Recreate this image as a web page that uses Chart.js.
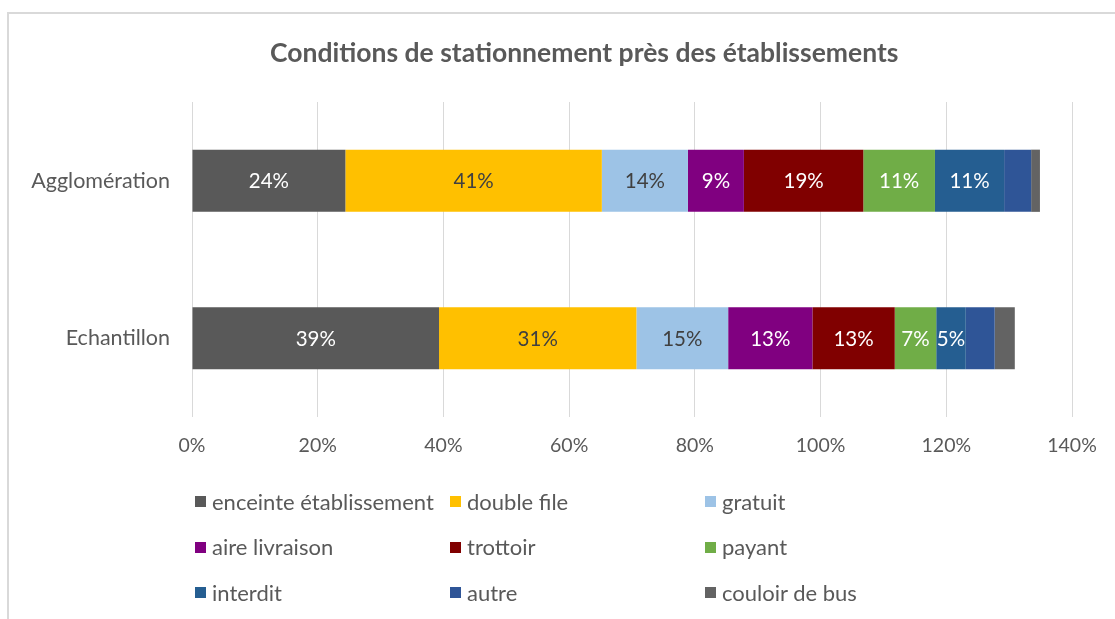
<!DOCTYPE html>
<html>
<head>
<meta charset="utf-8">
<script src="https://cdn.jsdelivr.net/npm/chart.js@4/dist/chart.umd.min.js"></script>
<style>
  html, body { margin: 0; padding: 0; background: #ffffff; overflow: hidden; }
  #wrap { position: relative; width: 1115px; height: 619px; overflow: hidden; }
  #frame { position: absolute; left: 7px; top: 12px; width: 1200px; height: 700px; border: 2px solid #d9d9d9; box-sizing: border-box; }
  #c { position: absolute; left: 0; top: 0; }
  #title { position: absolute; left: 270px; width: 600px; top: 34px; height: 36px; line-height: 36px; text-align: center; white-space: nowrap;
           font-family: Lato, "Open Sans", sans-serif; font-weight: bold; font-size: 26.5px; color: #595959; }
  #legend { position: absolute; left: 195px; top: 489px; display: grid; grid-template-columns: 255px 255px 255px; grid-auto-rows: 45.5px;
            font-family: Lato, "Open Sans", sans-serif; font-size: 22px; color: #595959; }
  #legend div { display: flex; align-items: center; height: 24px; white-space: nowrap; }
  #legend span.box { display: inline-block; flex: 0 0 11px; width: 11px; height: 11px; margin-right: 6px; margin-top: 1px; }
</style>
</head>
<body>
<div id="wrap">
  <div id="frame"></div>
  <canvas id="c" width="1115" height="619"></canvas>
  <div id="title"></div>
  <div id="legend"></div>
</div>
<script>
const titleText = "Conditions de stationnement près des établissements";
const categories = ["Agglomération", "Echantillon"];
const seriesNames = ["enceinte établissement", "double file", "gratuit", "aire livraison", "trottoir", "payant", "interdit", "autre", "couloir de bus"];
const enceinte = [24.4, 39.3];
const doubleFile = [40.8, 31.4];
const gratuit = [13.7, 14.6];
const aireLivraison = [8.9, 13.4];
const trottoir = [19.0, 13.1];
const payant = [11.4, 6.6];
const interdit = [11.0, 4.7];
const autre = [4.3, 4.6];
const couloirBus = [1.4, 3.2];
const seriesColors = ["#595959", "#FFC000", "#9DC3E6", "#800080", "#800000", "#70AD47", "#255E91", "#2F5597", "#636363"];
const labelColors = ["#ffffff", "#404040", "#404040", "#ffffff", "#ffffff", "#ffffff", "#ffffff", null, null];
const tickValues = [0, 20, 40, 60, 80, 100, 120, 140];

const seriesValues = [enceinte, doubleFile, gratuit, aireLivraison, trottoir, payant, interdit, autre, couloirBus];
const FONT = 'Lato, "Open Sans", sans-serif';

const datasets = seriesNames.map((name, i) => ({
  label: name,
  data: seriesValues[i],
  backgroundColor: seriesColors[i],
  borderWidth: 0,
  categoryPercentage: 1.0,
  barPercentage: 0.395
}));

const barLabels = {
  id: 'barLabels',
  afterDatasetsDraw(chart) {
    const ctx = chart.ctx;
    ctx.save();
    ctx.font = '20.5px ' + FONT;
    ctx.textAlign = 'center';
    ctx.textBaseline = 'middle';
    chart.data.datasets.forEach((ds, i) => {
      if (!labelColors[i]) return;
      const meta = chart.getDatasetMeta(i);
      meta.data.forEach((el, j) => {
        const v = ds.data[j];
        const cx = (el.x + el.base) / 2;
        ctx.fillStyle = labelColors[i];
        ctx.fillText(Math.round(v) + '%', cx, el.y + 1);
      });
    });
    ctx.restore();
  }
};

new Chart(document.getElementById('c'), {
  type: 'bar',
  data: { labels: categories, datasets },
  options: {
    indexAxis: 'y',
    responsive: false,
    animation: false,
    layout: { padding: { left: 0, right: 43, top: 102, bottom: 0 } },
    plugins: {
      legend: { display: false },
      tooltip: { enabled: false },
      title: { display: false }
    },
    scales: {
      x: {
        stacked: true,
        min: 0,
        max: 140,
        afterBuildTicks(axis) { axis.ticks = tickValues.map(v => ({ value: v })); },
        afterFit(axis) { axis.height = 202; },
        ticks: {
          color: '#595959',
          font: { family: FONT, size: 19.5 },
          padding: 17,
          callback: v => v + '%'
        },
        grid: { color: '#d9d9d9', lineWidth: 1, drawTicks: false },
        border: { display: false }
      },
      y: {
        stacked: true,
        afterFit(axis) { axis.width = 192; },
        ticks: {
          color: '#595959',
          font: { family: FONT, size: 21.5 },
          padding: 22
        },
        grid: { display: false, drawTicks: false },
        border: { display: false }
      }
    }
  },
  plugins: [barLabels]
});

document.getElementById('title').textContent = titleText;
const legend = document.getElementById('legend');
seriesNames.forEach((name, i) => {
  const d = document.createElement('div');
  const b = document.createElement('span');
  b.className = 'box';
  b.style.background = seriesColors[i];
  d.appendChild(b);
  d.appendChild(document.createTextNode(name));
  legend.appendChild(d);
});
</script>
</body>
</html>
